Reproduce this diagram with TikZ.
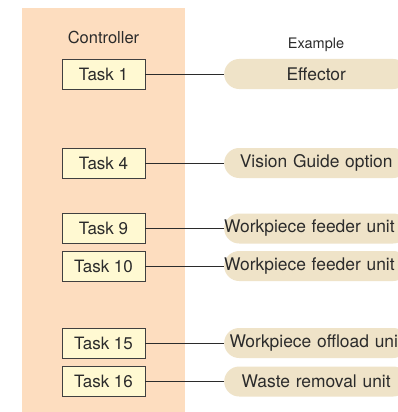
\documentclass[tikz,border=0pt]{standalone}
\usepackage{fontspec}
\setmainfont{TeX Gyre Heros}
\usetikzlibrary{positioning}

\definecolor{ctrlfill}{HTML}{FDDDBF}
\definecolor{taskfill}{HTML}{FFF9D2}
\definecolor{pillfill}{HTML}{EFE3C8}
\definecolor{inkgray}{HTML}{2B2B2B}

\tikzset{
  taskbox/.style={rectangle,draw=inkgray!90,line width=0.9pt,fill=taskfill,
    minimum width=83pt,minimum height=30pt,inner sep=0pt,text=inkgray,
    font=\fontsize{17}{20}\selectfont},
  pill/.style={rectangle,fill=pillfill,rounded corners=15pt,anchor=west,
    minimum height=30pt,inner xsep=0pt,text width=184pt,align=center,text=inkgray,
    font=\fontsize{17.4}{20}\selectfont},
  link/.style={draw=inkgray,line width=0.9pt}
}

\begin{document}
\begin{tikzpicture}[x=1pt,y=-1pt]
\useasboundingbox (0,0) rectangle (398,412);
\clip (0,0) rectangle (398,412);
\fill[white] (0,0) rectangle (398,412);

% controller panel
\fill[ctrlfill] (22,8) rectangle (185,412);
\node[font=\fontsize{16.5}{20}\selectfont,text=inkgray] (ctrl) at (103.5,37) {Controller};
\node[font=\fontsize{14.5}{18}\selectfont,text=inkgray] (exmpl) at (316,45) {Example};

% tasks
\node[taskbox] (t1) at (103.5,74) {Task 1};
\node[taskbox] (t4) at (103.5,163) {Task 4};
\node[taskbox] (t9) at (103.5,228.5) {Task 9};
\node[taskbox] (t10) at (103.5,266) {Task 10};
\node[taskbox] (t15) at (103.5,343) {Task 15};
\node[taskbox] (t16) at (103.5,381.5) {Task 16};

% units
\node[pill] (p1) at (224,74) {Effector};
\node[pill] (p4) at (224,163) {Vision Guide option};
\node[pill,align=left] (p9) at (224,228.5) {Workpiece feeder unit};
\node[pill,align=left] (p10) at (224,266) {Workpiece feeder unit};
\node[pill] (p15) at (224,343) {Workpiece offload unit};
\node[pill] (p16) at (224,381.5) {Waste removal unit};

\draw[link] (t1) -- (p1);
\draw[link] (t4) -- (p4);
\draw[link] (t9) -- (p9);
\draw[link] (t10) -- (p10);
\draw[link] (t15) -- (p15);
\draw[link] (t16) -- (p16);

\end{tikzpicture}
\end{document}
